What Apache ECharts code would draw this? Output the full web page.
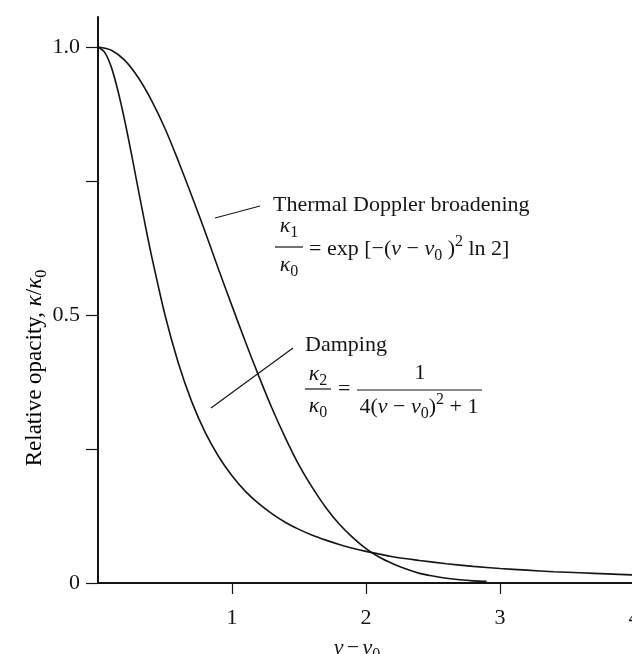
<!DOCTYPE html>
<html>
<head>
<meta charset="utf-8">
<script src="https://cdn.jsdelivr.net/npm/echarts@6/dist/echarts.min.js"></script>
<style>
    html, body { margin: 0; padding: 0; background: #fff; }
    #chart { width: 632px; height: 654px; }
</style>
</head>
<body>
<div id="chart"></div>
<script>
// values
var thermalX = [0, 0.1, 0.2, 0.3, 0.4, 0.5, 0.6, 0.7, 0.8, 0.9, 1.0, 1.1, 1.2, 1.3, 1.4, 1.5,
    1.6, 1.7, 1.8, 1.9, 2.0, 2.1, 2.2, 2.3, 2.4, 2.5, 2.6, 2.7, 2.8, 2.9];
var thermalY = [1.0, 0.994, 0.975, 0.943, 0.9, 0.848, 0.787, 0.722, 0.655, 0.585, 0.517, 0.45, 0.386, 0.325, 0.27, 0.22,
    0.178, 0.141, 0.11, 0.085, 0.064, 0.048, 0.036, 0.026, 0.018, 0.013, 0.009, 0.006, 0.004, 0.003];
var dampingX = [0, 0.05, 0.1, 0.15, 0.2, 0.25, 0.3, 0.35, 0.4, 0.5, 0.6, 0.7, 0.8, 0.9, 1.0, 1.1, 1.2, 1.3, 1.4, 1.5,
    1.6, 1.7, 1.8, 1.9, 2.0, 2.2, 2.4, 2.6, 2.8, 3.0, 3.2, 3.4, 3.6, 3.8, 4.0];
var dampingY = [1.0, 0.99, 0.962, 0.917, 0.862, 0.8, 0.735, 0.671, 0.61, 0.5, 0.41, 0.338, 0.281, 0.236, 0.2, 0.171, 0.148, 0.129, 0.113, 0.1,
    0.089, 0.08, 0.072, 0.065, 0.059, 0.049, 0.042, 0.036, 0.031, 0.027, 0.024, 0.021, 0.019, 0.017, 0.015];
var xTicks = [1, 2, 3, 4];
var yTicks = [0, 0.25, 0.5, 0.75, 1.0];
var yLabels = [0, 0.5, 1.0];

var SERIF = '"Liberation Serif", "DejaVu Serif", serif';
var INK = '#151515';

function pairs(xs, ys) {
    return xs.map(function (x, i) { return [x, ys[i]]; });
}

var rich = {
    n: { fontSize: 22, fontFamily: SERIF, color: INK },
    i: { fontSize: 22, fontFamily: SERIF, fontStyle: 'italic', color: INK },
    sub: { fontSize: 16, fontFamily: SERIF, color: INK, padding: [14, 0, 0, 0] },
    sup: { fontSize: 16, fontFamily: SERIF, color: INK, padding: [0, 0, 14, 0] },
    yn: { fontSize: 23, fontFamily: SERIF, color: INK },
    yi: { fontSize: 23, fontFamily: SERIF, fontStyle: 'italic', color: INK },
    ysub: { fontSize: 16, fontFamily: SERIF, color: INK, padding: [14, 0, 0, 0] }
};

function txt(x, y, text, align) {
    return {
        type: 'text', x: x, y: y, silent: true,
        style: {
            text: text, rich: rich, font: '22px ' + SERIF, fill: INK,
            align: align || 'left', verticalAlign: 'middle'
        }
    };
}
function seg(x1, y1, x2, y2) {
    return {
        type: 'line', silent: true,
        shape: { x1: x1, y1: y1, x2: x2, y2: y2 },
        style: { stroke: INK, lineWidth: 1.2 }
    };
}

var myChart = echarts.init(document.getElementById('chart'));
var option = {
    backgroundColor: '#fff',
    animation: false,
    grid: { left: 98, top: 17, width: 536, bottom: 71, outerBoundsMode: 'none', containLabel: false },
    xAxis: {
        type: 'value', min: 0, max: 4, interval: 1,
        name: '{i|ν} {n|−} {i|ν}{sub|0}',
        nameLocation: 'middle', nameGap: 50,
        nameTextStyle: { rich: rich, padding: [0, 18, 0, 0] },
        axisLine: { lineStyle: { color: INK, width: 2 } },
        axisTick: { length: 11, customValues: xTicks, lineStyle: { color: INK, width: 1.2 } },
        axisLabel: { customValues: xTicks, margin: 24, fontFamily: SERIF, fontSize: 22, color: INK },
        splitLine: { show: false }
    },
    yAxis: {
        type: 'value', min: 0, max: 1.056, interval: 0.25,
        axisLine: { onZero: false, lineStyle: { color: INK, width: 2 } },
        axisTick: { length: 12, customValues: yTicks, lineStyle: { color: INK, width: 1.2 } },
        axisLabel: {
            customValues: yLabels, margin: 18, fontFamily: SERIF, fontSize: 22, color: INK,
            formatter: function (v) { return v === 0 ? '0' : v.toFixed(1); }
        },
        splitLine: { show: false }
    },
    graphic: {
        elements: [
            // y axis title
            {
                type: 'text', x: 35, y: 368, rotation: Math.PI / 2, silent: true,
                style: {
                    text: '{yn|Relative opacity, }{yi|κ}{yn|/}{yi|κ}{ysub|0}', rich: rich,
                    align: 'center', verticalAlign: 'middle'
                }
            },
            // thermal doppler note
            seg(215, 218, 260, 206),
            txt(273, 205, '{n|Thermal Doppler broadening}'),
            txt(289, 226, '{i|κ}{sub|1}', 'center'),
            seg(275, 247, 303, 247),
            txt(289, 265, '{i|κ}{sub|0}', 'center'),
            txt(309, 249, '{n|= exp [−(}{i|ν}{n| − }{i|ν}{sub|0}{n| )}{sup|2}{n| ln 2]}'),
            // damping note
            seg(211, 408, 293, 348),
            txt(305, 345, '{n|Damping}'),
            txt(318, 374, '{i|κ}{sub|2}', 'center'),
            seg(305, 389, 331, 389),
            txt(318, 406, '{i|κ}{sub|0}', 'center'),
            txt(338, 389, '{n|=}'),
            txt(420, 373, '{n|1}', 'center'),
            seg(357, 390, 482, 390),
            txt(419, 407, '{n|4(}{i|ν}{n| − }{i|ν}{sub|0}{n|)}{sup|2}{n| + 1}', 'center')
        ]
    },
    series: [
        {
            name: 'Thermal Doppler broadening', type: 'line', smooth: 0.3,
            showSymbol: false, silent: true,
            lineStyle: { color: INK, width: 1.6 },
            data: pairs(thermalX, thermalY)
        },
        {
            name: 'Damping', type: 'line', smooth: 0.3,
            showSymbol: false, silent: true,
            lineStyle: { color: INK, width: 1.6 },
            data: pairs(dampingX, dampingY)
        }
    ]
};
myChart.setOption(option);
</script>
</body>
</html>
